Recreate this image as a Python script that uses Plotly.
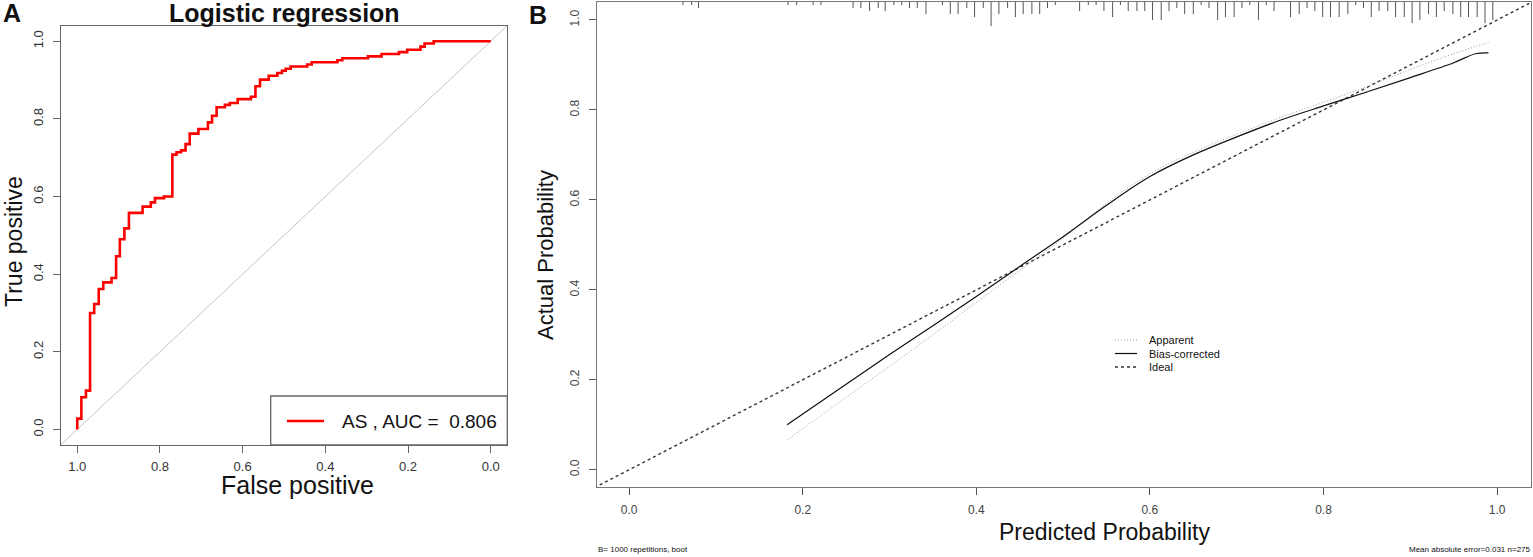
import plotly.graph_objects as go

# ---- panel A: ROC curve (pROC style, specificity axis reversed)
specificity = [1.0, 1.0, 0.990, 0.979, 0.969, 0.959, 0.948, 0.937, 0.917, 0.906, 0.897, 0.886,
               0.875, 0.842, 0.822, 0.812, 0.790, 0.770, 0.760, 0.749, 0.738, 0.728, 0.707,
               0.684, 0.674, 0.663, 0.643, 0.631, 0.612, 0.580, 0.569, 0.558, 0.537, 0.516,
               0.505, 0.496, 0.484, 0.444, 0.433, 0.371, 0.359, 0.297, 0.264, 0.222, 0.202,
               0.170, 0.160, 0.138, 0.0]
sensitivity = [0.0, 0.028, 0.083, 0.10, 0.30, 0.323, 0.362, 0.379, 0.39, 0.446, 0.49, 0.518,
               0.558, 0.574, 0.585, 0.596, 0.60, 0.708, 0.714, 0.719, 0.735, 0.762, 0.774,
               0.791, 0.808, 0.830, 0.836, 0.841, 0.851, 0.857, 0.884, 0.901, 0.911, 0.918,
               0.924, 0.929, 0.935, 0.940, 0.946, 0.951, 0.956, 0.961, 0.967, 0.972, 0.978,
               0.986, 0.994, 1.0, 1.0]
auc_label = "AS , AUC = &nbsp;0.806"
roc_ticks = [0.0, 0.2, 0.4, 0.6, 0.8, 1.0]
roc_ticktext = ["0.0", "0.2", "0.4", "0.6", "0.8", "1.0"]

# ---- panel B: calibration curve
pred = [0.182, 0.25, 0.30, 0.35, 0.40, 0.45, 0.50, 0.55, 0.60, 0.65, 0.70, 0.75, 0.80, 0.85,
        0.90, 0.95, 0.975, 0.99]
bias_corrected = [0.100, 0.190, 0.256, 0.320, 0.385, 0.452, 0.518, 0.588, 0.652, 0.700, 0.740,
                  0.777, 0.809, 0.840, 0.872, 0.905, 0.925, 0.927]
apparent = [0.066, 0.161, 0.230, 0.300, 0.372, 0.443, 0.515, 0.592, 0.658, 0.706, 0.746, 0.783,
            0.817, 0.852, 0.890, 0.925, 0.941, 0.950]

# rug of predicted probabilities at the top (position, relative count)
rug_x = [0.062, 0.072, 0.080, 0.183, 0.193, 0.212, 0.221, 0.258, 0.267, 0.277, 0.287, 0.295,
         0.305, 0.314, 0.323, 0.332, 0.342, 0.361, 0.370, 0.379, 0.389, 0.398, 0.408, 0.417,
         0.426, 0.436, 0.445, 0.454, 0.464, 0.473, 0.482, 0.491, 0.519, 0.529, 0.538, 0.547,
         0.557, 0.566, 0.575, 0.585, 0.594, 0.603, 0.613, 0.622, 0.631, 0.640, 0.650, 0.659,
         0.668, 0.678, 0.687, 0.697, 0.706, 0.715, 0.725, 0.734, 0.743, 0.762, 0.772, 0.781,
         0.790, 0.799, 0.808, 0.818, 0.828, 0.837, 0.846, 0.855, 0.864, 0.874, 0.883, 0.893,
         0.902, 0.911, 0.921, 0.930, 0.939, 0.949, 0.958, 0.967, 0.977, 0.986, 0.995]
rug_n = [1, 1, 2, 1, 1, 1, 1, 2, 2, 3, 2, 3,
         1, 1, 2, 2, 4, 1, 4, 4, 2, 5, 2, 8,
         4, 2, 5, 4, 4, 4, 2, 1, 3, 1, 1, 3,
         5, 1, 3, 3, 3, 6, 6, 3, 2, 4, 4, 1,
         2, 6, 5, 5, 2, 1, 6, 1, 3, 5, 4, 2,
         3, 5, 5, 5, 4, 1, 2, 5, 3, 3, 5, 5,
         7, 6, 4, 5, 3, 4, 5, 5, 5, 7, 6]
cal_ticks = [0.0, 0.2, 0.4, 0.6, 0.8, 1.0]
cal_ticktext = ["0.0", "0.2", "0.4", "0.6", "0.8", "1.0"]

W, H = 1533, 557
FONT = "Liberation Sans, Arial, sans-serif"


def px(x):
    return x / W


def py(y):
    return 1 - y / H


fig = go.Figure()

# A: chance diagonal + ROC
diag_a = [1.04, -0.04]
fig.add_trace(go.Scatter(x=diag_a, y=[1 - v for v in diag_a], mode="lines",
                         line=dict(color="#c4c4c4", width=1), xaxis="x", yaxis="y",
                         hoverinfo="skip"))
fig.add_trace(go.Scatter(x=specificity, y=sensitivity, mode="lines", line_shape="hv",
                         line=dict(color="#ff0000", width=2.6), xaxis="x", yaxis="y",
                         name="AS"))

# B: ideal, apparent, bias-corrected, rug
ideal = [-0.04, 1.04]
fig.add_trace(go.Scatter(x=ideal, y=ideal, mode="lines",
                         line=dict(color="#333333", width=1.4, dash="3px,3px"),
                         xaxis="x2", yaxis="y2", name="Ideal"))
fig.add_trace(go.Scatter(x=pred, y=apparent, mode="lines", line_shape="spline",
                         line=dict(color="#9a9a9a", width=1, dash="1px,2px"),
                         xaxis="x2", yaxis="y2", name="Apparent"))
fig.add_trace(go.Scatter(x=pred, y=bias_corrected, mode="lines", line_shape="spline",
                         line=dict(color="#111111", width=1.2),
                         xaxis="x2", yaxis="y2", name="Bias-corrected"))

rug_top = 1.04
unit = 0.0067
rx, ry = [], []
for p, n in zip(rug_x, rug_n):
    rx += [p, p, None]
    ry += [rug_top, rug_top - n * unit, None]
fig.add_trace(go.Scatter(x=rx, y=ry, mode="lines", line=dict(color="#555555", width=1),
                         xaxis="x2", yaxis="y2", hoverinfo="skip"))

axis_common = dict(showgrid=False, zeroline=False, showline=True, mirror=True,
                   ticks="outside", ticklen=7, tickwidth=1)

fig.update_layout(
    width=W, height=H,
    margin=dict(l=0, r=0, t=0, b=0),
    paper_bgcolor="white", plot_bgcolor="white",
    showlegend=False,
    font=dict(family=FONT, color="#222"),
    xaxis=dict(axis_common, domain=[px(60.7), px(507.3)], range=[1.04, -0.04],
               tickvals=roc_ticks, ticktext=roc_ticktext, linecolor="#666", linewidth=1.3,
               tickcolor="#666", tickfont=dict(size=13, color="#333"),
               ticklabelstandoff=2, anchor="y"),
    yaxis=dict(axis_common, domain=[py(445), py(25.7)], range=[-0.04, 1.04],
               tickvals=roc_ticks, ticktext=roc_ticktext, linecolor="#666", linewidth=1.3,
               tickcolor="#666", tickfont=dict(size=13, color="#333"), tickangle=-90,
               ticklabelstandoff=4, anchor="x"),
    xaxis2=dict(axis_common, domain=[px(597), px(1531)], range=[-0.037, 1.039],
                tickvals=cal_ticks, ticktext=cal_ticktext, linecolor="#777", linewidth=1,
                tickcolor="#555", tickfont=dict(size=12, color="#444"),
                ticklabelstandoff=4, anchor="y2"),
    yaxis2=dict(axis_common, domain=[py(487.3), py(2)], range=[-0.039, 1.04],
                tickvals=cal_ticks, ticktext=cal_ticktext, linecolor="#777", linewidth=1,
                tickcolor="#555", tickfont=dict(size=12, color="#444"), tickangle=-90,
                ticklabelstandoff=5, anchor="x2"),
)

ann = []


def text(x, y, s, size, bold=False, angle=0, xanchor="center", color="#111"):
    ann.append(dict(x=px(x), y=py(y), xref="paper", yref="paper", text=f"<b>{s}</b>" if bold else s,
                    showarrow=False, textangle=angle, xanchor=xanchor, yanchor="middle",
                    font=dict(family=FONT, size=size, color=color)))


text(12, 13, "A", 25, bold=True)
text(284, 13, "Logistic regression", 25, bold=True)
text(14, 242, "True positive", 23, angle=-90)
text(297, 485, "False positive", 25)
text(340, 421, auc_label, 19, xanchor="left")

text(538, 15, "B", 25, bold=True)
text(545, 255, "Actual Probability", 22, angle=-90)
text(1104, 532, "Predicted Probability", 23)
text(1147, 340, "Apparent", 11, xanchor="left")
text(1147, 353.5, "Bias-corrected", 11, xanchor="left")
text(1147, 367, "Ideal", 11, xanchor="left")
text(596, 549, "B= 1000 repetitions, boot", 8, xanchor="left")
text(1533, 549, "Mean absolute error=0.031 n=275", 8, xanchor="right")

shapes = [
    # legend box for panel A
    dict(type="rect", xref="paper", yref="paper", x0=px(270.7), x1=px(507.3),
         y0=py(445), y1=py(396), line=dict(color="#666", width=1.3)),
    dict(type="line", xref="paper", yref="paper", x0=px(287), x1=px(324),
         y0=py(421), y1=py(421), line=dict(color="#ff0000", width=2.6)),
    # legend keys for panel B
    dict(type="line", xref="paper", yref="paper", x0=px(1115), x1=px(1137),
         y0=py(340), y1=py(340), line=dict(color="#9a9a9a", width=1, dash="1px,2px")),
    dict(type="line", xref="paper", yref="paper", x0=px(1115), x1=px(1137),
         y0=py(353.5), y1=py(353.5), line=dict(color="#111", width=1.2)),
    dict(type="line", xref="paper", yref="paper", x0=px(1115), x1=px(1137),
         y0=py(367), y1=py(367), line=dict(color="#333", width=1.4, dash="3px,3px")),
]

fig.update_layout(annotations=ann, shapes=shapes)

# drop the default 8px page margin so the figure fills the window exactly
fig.write_html("out.html", config={"displayModeBar": False},
               post_script="document.body.style.margin='0';")
